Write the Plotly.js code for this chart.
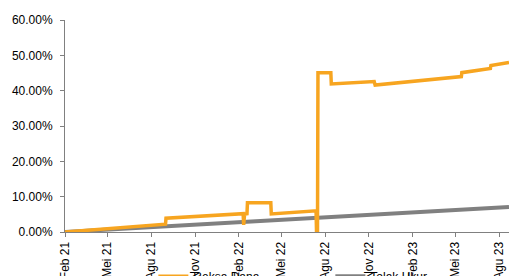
<!DOCTYPE html>
<html>
<head>
<meta charset="utf-8">
<script src="https://cdn.plot.ly/plotly-3.0.1.min.js"></script>
<style>html,body{margin:0;padding:0;background:#fff;}#chart{width:509px;height:276px;}</style>
</head>
<body>
<div id="chart"></div>
<script>
// Reksa Dana (fund) cumulative return, percent
const fundDates = ["2021-02-01","2021-08-31","2021-09-01","2022-02-10","2022-02-11","2022-02-13","2022-02-18","2022-02-19","2022-04-09","2022-04-10","2022-07-13","2022-07-14","2022-07-16","2022-07-17","2022-08-13","2022-08-14","2022-11-12","2022-11-14","2023-05-14","2023-05-15","2023-07-14","2023-07-15","2023-08-22"];
const fundValues = [0.0, 2.2, 3.9, 5.2, 2.0, 5.1, 5.2, 8.3, 8.3, 5.1, 6.0, 0.0, 0.0, 45.1, 45.1, 41.9, 42.6, 41.6, 44.0, 45.1, 46.3, 47.1, 48.0];
// Tolak Ukur (benchmark), percent
const benchDates = ["2021-02-01","2021-08-01","2022-02-01","2022-08-01","2023-02-01","2023-08-22"];
const benchValues = [0.0, 1.4, 2.8, 4.2, 5.6, 7.1];
// Axis ticks
const tickDates = ["2021-02-01","2021-05-01","2021-08-01","2021-11-01","2022-02-01","2022-05-01","2022-08-01","2022-11-01","2023-02-01","2023-05-01","2023-08-01"];
const tickLabels = ["Feb 21","Mei 21","Agu 21","Nov 21","Feb 22","Mei 22","Agu 22","Nov 22","Feb 23","Mei 23","Agu 23"];
const yTickVals = [0, 10, 20, 30, 40, 50, 60];
const yTickLabels = ["0.00%","10.00%","20.00%","30.00%","40.00%","50.00%","60.00%"];
const seriesNames = ["Reksa Dana","Tolak Ukur"];

const axisGray = "#808080";
const font = {family: "Liberation Sans, Arial, sans-serif", size: 12, color: "#000"};

const traces = [
  {x: benchDates, y: benchValues, name: seriesNames[1], type: "scatter", mode: "lines",
   line: {color: "#808080", width: 4}, legendrank: 2},
  {x: fundDates, y: fundValues, name: seriesNames[0], type: "scatter", mode: "lines",
   line: {color: "#F7A520", width: 3.5}, legendrank: 1}
];

const layout = {
  width: 509, height: 276,
  margin: {l: 65, r: 0, t: 20, b: 44, autoexpand: false},
  paper_bgcolor: "#fff", plot_bgcolor: "#fff",
  font: font,
  showlegend: true,
  legend: {orientation: "h", x: 0.199, xanchor: "left", y: -0.14, yanchor: "top",
           entrywidth: 132, entrywidthmode: "pixels", font: font, bgcolor: "rgba(0,0,0,0)"},
  xaxis: {type: "date", range: ["2021-02-01","2023-08-22"], showgrid: false, zeroline: false,
          showline: true, linecolor: axisGray, linewidth: 1,
          ticks: "outside", ticklen: 4, tickcolor: axisGray,
          tickmode: "array", tickvals: tickDates, ticktext: tickLabels,
          tickangle: -90, ticklabelstandoff: 0, tickfont: font, automargin: false},
  yaxis: {range: [0, 60], showgrid: false, zeroline: false,
          showline: true, linecolor: axisGray, linewidth: 1,
          ticks: "outside", ticklen: 4, tickcolor: axisGray,
          tickmode: "array", tickvals: yTickVals, ticktext: yTickLabels,
          ticklabelstandoff: 5, tickfont: font, automargin: false}
};

Plotly.newPlot("chart", traces, layout, {staticPlot: true, displayModeBar: false});
</script>
</body>
</html>
